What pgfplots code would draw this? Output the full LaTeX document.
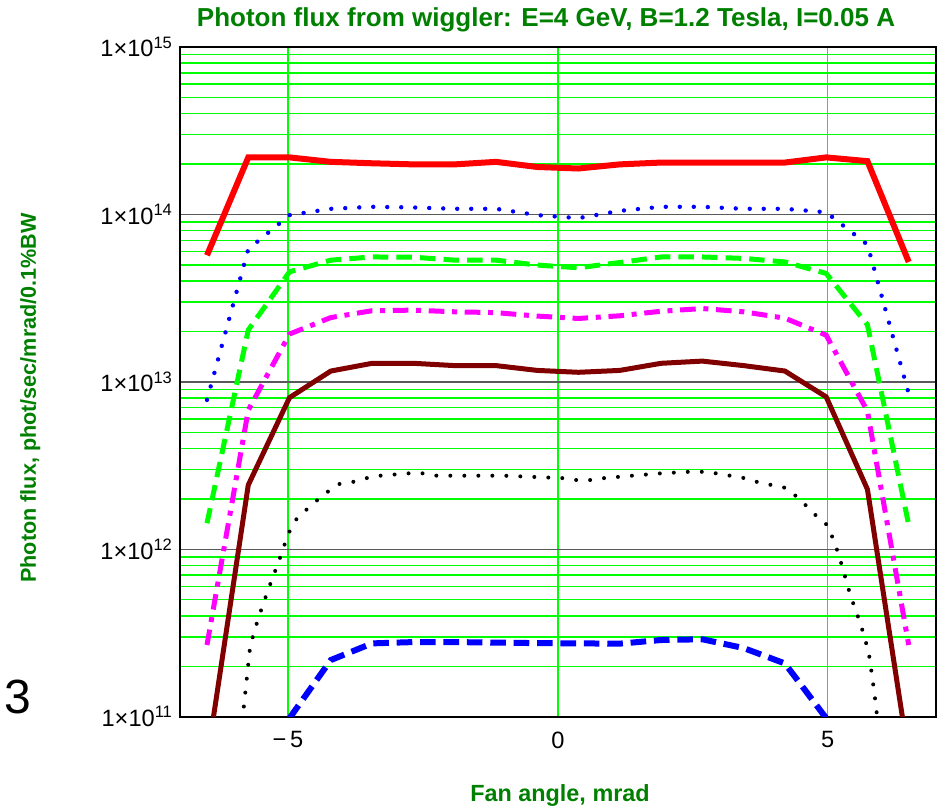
\documentclass[border=0pt]{standalone}
\usepackage{fontspec}
\setmainfont{Liberation Sans}
\usepackage{pgfplots}
\pgfplotsset{compat=1.18}
\definecolor{fgreen}{RGB}{0,128,0}
\definecolor{lgreen}{RGB}{0,255,0}
\definecolor{brownr}{RGB}{128,0,0}
\definecolor{mag}{RGB}{255,0,255}
\definecolor{gridgray}{RGB}{90,90,90}
\begin{document}
\begin{tikzpicture}[x=1pt,y=1pt]
\path[use as bounding box] (-90,-46.65) rectangle (381,358.35);
\begin{axis}[
  at={(0,0)}, anchor=south west,
  scale only axis, width=377.85pt, height=334.85pt,
  xmin=-7, xmax=7, ymin=1e11, ymax=1e15, ymode=log,
  xtick={-5,0,5}, xticklabels={−\,5,0,5},
  ytick={1e11,1e12,1e13,1e14,1e15},
  yticklabels={1×10\textsuperscript{11},1×10\textsuperscript{12},1×10\textsuperscript{13},1×10\textsuperscript{14},1×10\textsuperscript{15}},
  minor ytick={2e11,3e11,4e11,5e11,6e11,7e11,8e11,9e11,2e12,3e12,4e12,5e12,6e12,7e12,8e12,9e12,2e13,3e13,4e13,5e13,6e13,7e13,8e13,9e13,2e14,3e14,4e14,5e14,6e14,7e14,8e14,9e14},
  xmajorgrids, ymajorgrids, yminorgrids,
  major x grid style={lgreen, line width=0.7pt},
  major y grid style={gridgray, line width=0.7pt},
  minor y grid style={lgreen, line width=0.7pt},
  major tick length=0pt, minor tick length=0pt,
  axis line style={black, line width=1pt},
  tick label style={font=\fontsize{11.8}{12}\selectfont, black},
  xticklabel style={yshift=-4pt},
  axis on top=false,
]
% red solid
\addplot[red, line width=3pt] coordinates {
(-6.5,5.70e13) (-5.735,2.19e14) (-4.971,2.19e14) (-4.206,2.06e14) (-3.441,2.02e14) (-2.676,1.99e14) (-1.912,1.99e14) (-1.147,2.06e14) (-0.382,1.92e14) (0.382,1.88e14) (1.147,1.99e14) (1.912,2.04e14) (2.676,2.04e14) (3.441,2.04e14) (4.206,2.04e14) (4.971,2.19e14) (5.735,2.08e14) (6.5,5.20e13)};
% blue dotted
\addplot[blue, line width=2.2pt, line cap=round, dash pattern=on 0pt off 7pt] coordinates {
(-6.5,7.8e12) (-5.735,6.2e13) (-4.971,9.9e13) (-4.206,1.08e14) (-3.441,1.11e14) (-2.676,1.10e14) (-1.912,1.08e14) (-1.147,1.08e14) (-0.382,9.9e13) (0.382,9.5e13) (1.147,1.05e14) (1.912,1.11e14) (2.676,1.11e14) (3.441,1.08e14) (4.206,1.08e14) (4.971,1.03e14) (5.735,6.6e13) (6.5,8.5e12)};
% green dashed
\addplot[lgreen, line width=2.5pt, dash pattern=on 7.7pt off 4.1pt] coordinates {
(-6.5,1.43e12) (-5.735,2.04e13) (-4.971,4.54e13) (-4.206,5.33e13) (-3.441,5.57e13) (-2.676,5.55e13) (-1.912,5.33e13) (-1.147,5.33e13) (-0.382,4.98e13) (0.382,4.80e13) (1.147,5.16e13) (1.912,5.57e13) (2.676,5.57e13) (3.441,5.46e13) (4.206,5.20e13) (4.971,4.44e13) (5.735,2.19e13) (6.5,1.40e12)};
% magenta dash-dot
\addplot[mag, line width=2.5pt, dash pattern=on 7.8pt off 3.85pt on 2.5pt off 3.85pt] coordinates {
(-6.5,2.68e11) (-5.735,6.78e12) (-4.971,1.93e13) (-4.206,2.42e13) (-3.441,2.66e13) (-2.676,2.68e13) (-1.912,2.62e13) (-1.147,2.59e13) (-0.382,2.47e13) (0.382,2.39e13) (1.147,2.48e13) (1.912,2.64e13) (2.676,2.74e13) (3.441,2.62e13) (4.206,2.40e13) (4.971,1.90e13) (5.735,6.68e12) (6.5,2.68e11)};
% brown solid
\addplot[brownr, line width=2.5pt] coordinates {
(-6.5,5.5e10) (-5.735,2.42e12) (-4.971,8.05e12) (-4.206,1.16e13) (-3.441,1.29e13) (-2.676,1.29e13) (-1.912,1.25e13) (-1.147,1.25e13) (-0.382,1.17e13) (0.382,1.14e13) (1.147,1.17e13) (1.912,1.29e13) (2.676,1.33e13) (3.441,1.25e13) (4.206,1.16e13) (4.971,8.13e12) (5.735,2.28e12) (6.5,5.65e10)};
% black dotted
\addplot[black, line width=2pt, line cap=round, dash pattern=on 0pt off 7pt] coordinates {
(-5.85,9.5e10) (-5.833,1.03e11) (-5.698,2.67e11) (-5.544,3.92e11) (-5.364,5.77e11) (-5.173,8.41e11) (-4.993,1.24e12) (-4.845,1.51e12) (-4.580,1.82e12) (-4.320,2.14e12) (-4.061,2.45e12) (-3.807,2.52e12) (-3.542,2.66e12) (-3.288,2.75e12) (-2.768,2.84e12) (-2.503,2.84e12) (-2.244,2.75e12) (-1.0,2.75e12) (-0.4,2.70e12) (0.087,2.66e12) (0.347,2.59e12) (0.593,2.59e12) (0.853,2.66e12) (1.380,2.75e12) (1.904,2.84e12) (2.418,2.90e12) (2.678,2.90e12) (2.937,2.84e12) (3.456,2.66e12) (3.716,2.51e12) (4.235,2.32e12) (4.495,1.97e12) (4.754,1.62e12) (5.006,1.38e12) (5.199,9.40e11) (5.422,5.27e11) (5.607,3.59e11) (5.756,2.45e11) (5.830,1.67e11) (5.897,1.14e11) (5.92,9.5e10)};
% blue dashed
\addplot[blue, line width=3pt, dash pattern=on 7.8pt off 3.9pt] coordinates {
(-4.971,9.8e10) (-4.206,2.18e11) (-3.441,2.74e11) (-2.676,2.79e11) (-1.912,2.79e11) (-1.147,2.77e11) (-0.382,2.75e11) (0.382,2.74e11) (1.147,2.73e11) (1.912,2.87e11) (2.676,2.90e11) (3.441,2.57e11) (4.206,2.08e11) (4.971,9.8e10)};
\end{axis}
\node[anchor=base, text=fgreen, font=\bfseries\fontsize{13}{14}\selectfont] at (183,344.85) {Photon flux from wiggler: E=4 GeV, B=1.2 Tesla, I=0.05 A};
\node[anchor=base, text=fgreen, font=\bfseries\fontsize{11.7}{12}\selectfont] at (190,-42.5) {Fan angle, mrad};
\node[anchor=base, rotate=90, text=fgreen, font=\bfseries\fontsize{10.8}{12}\selectfont] at (-72,159.4) {Photon flux, phot/sec/mrad/0.1\%BW};
\node[anchor=base west, inner sep=0pt, font=\fontsize{24}{24}\selectfont] at (-88,1.85) {3};
\end{tikzpicture}
\end{document}
